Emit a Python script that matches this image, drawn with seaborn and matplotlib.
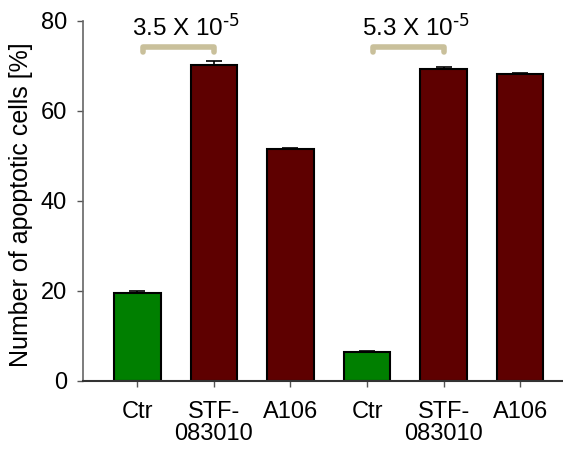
import matplotlib
matplotlib.use("Agg")
import matplotlib.pyplot as plt
import seaborn as sns
import pandas as pd

# values
conditions = ["Ctr_a", "STF_a", "A106_a", "Ctr_b", "STF_b", "A106_b"]
tick_labels = ["Ctr", "STF-\n083010", "A106", "Ctr", "STF-\n083010", "A106"]
apoptotic_pct = [19.6, 70.3, 51.6, 6.4, 69.4, 68.1]
errors = [0.45, 0.9, 0.2, 0.1, 0.4, 0.4]
bar_colors = ["#007f00", "#5e0000", "#5e0000", "#007f00", "#5e0000", "#5e0000"]
p_labels = [r"3.5 X 10$^{\text{-5}}$", r"5.3 X 10$^{\text{-5}}$"]
p_pairs = [(0, 1), (3, 4)]


def main():
    sns.set_theme(style="white")
    plt.rcParams["font.family"] = ["Liberation Sans", "DejaVu Sans"]
    plt.rcParams["mathtext.default"] = "regular"
    plt.rcParams["text.color"] = "black"
    plt.rcParams["xtick.color"] = "black"
    plt.rcParams["ytick.color"] = "black"
    plt.rcParams["axes.labelcolor"] = "black"

    df = pd.DataFrame({"cond": conditions, "pct": apoptotic_pct})

    fig = plt.figure(figsize=(5.63, 4.51), dpi=100)
    ax = fig.add_axes([0.1474, 0.156, 0.8526, 0.7975])

    sns.barplot(
        data=df,
        x="cond",
        y="pct",
        hue="cond",
        palette=bar_colors,
        saturation=1,
        width=0.61,
        edgecolor="black",
        linewidth=1.5,
        legend=False,
        ax=ax,
    )
    ax.errorbar(
        range(len(conditions)),
        apoptotic_pct,
        yerr=[[0] * len(errors), errors],
        fmt="none",
        ecolor="black",
        elinewidth=1.2,
        capsize=5.5,
        capthick=1.2,
        zorder=1,
    )

    # significance brackets
    for (a, b), txt in zip(p_pairs, p_labels):
        x0, x1 = a + 0.08, b
        ax.plot(
            [x0, x0, x1, x1],
            [73.0, 74.3, 74.3, 73.0],
            color="#c9c09b",
            lw=4,
            solid_capstyle="round",
            solid_joinstyle="round",
            clip_on=False,
        )
        ax.text((a + b) / 2 + 0.14, 75.6, txt, ha="center", va="bottom", fontsize=17.5)

    ax.set_xlim(-0.71, 5.56)
    ax.set_ylim(0, 80)
    ax.set_yticks([0, 20, 40, 60, 80])
    ax.set_xticks(range(len(conditions)))
    ax.set_xticklabels(tick_labels, fontsize=17, linespacing=1.0)
    ax.tick_params(axis="y", labelsize=17)
    ax.tick_params(
        axis="both", which="major", direction="out", length=4.5, width=1,
        left=True, bottom=True, pad=7,
    )
    ax.tick_params(axis="both", color="#555555")
    ax.tick_params(axis="x", pad=10)
    ax.set_xlabel("")
    ax.set_ylabel("Number of apoptotic cells [%]", fontsize=18)
    ax.yaxis.set_label_coords(-0.104, 0.49)

    sns.despine(ax=ax, top=True, right=True)
    ax.spines["left"].set_color("#666666")
    ax.spines["left"].set_linewidth(1.2)
    ax.spines["bottom"].set_color("#333333")
    ax.spines["bottom"].set_linewidth(1.5)

    fig.savefig("out.png", dpi=100)
    plt.close(fig)


if __name__ == "__main__":
    main()
